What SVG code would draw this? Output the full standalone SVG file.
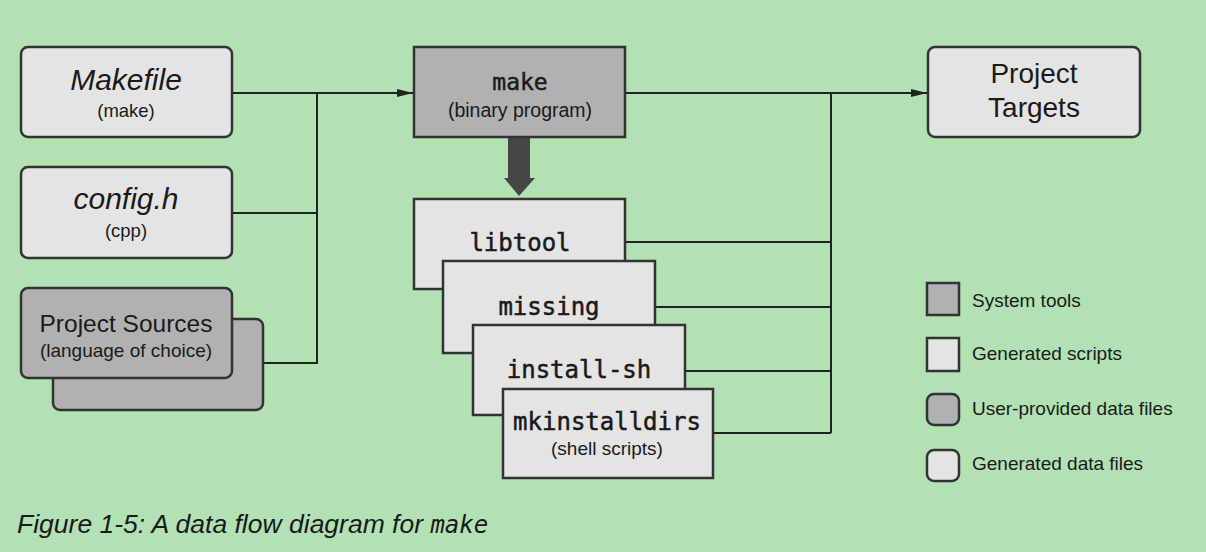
<svg xmlns="http://www.w3.org/2000/svg" width="1206" height="552" viewBox="0 0 1206 552">
<style>
.bg{fill:#b2e1b4}
.lt{fill:#e4e4e4;stroke:#333;stroke-width:2.5}
.dk{fill:#b1b1b1;stroke:#333;stroke-width:2.5}
.ln{fill:none;stroke:#222;stroke-width:2}
.s{font-family:"Liberation Sans",Arial,sans-serif;fill:#1a1a1a;text-anchor:middle}
.it{font-style:italic}
.m{font-family:"DejaVu Sans Mono","Liberation Mono",monospace;fill:#1a1a1a;stroke:#1a1a1a;stroke-width:0.5;text-anchor:middle}
.lg{font-family:"Liberation Sans",Arial,sans-serif;fill:#1a1a1a;font-size:19px}
</style>
<defs>
<marker id="ah" viewBox="0 0 16 10" refX="16" refY="5" markerWidth="16" markerHeight="10" markerUnits="userSpaceOnUse" orient="auto">
<path d="M0,1 L16,5 L0,9 Z" fill="#222"/>
</marker>
</defs>
<rect class="bg" x="0" y="0" width="1206" height="552"/>

<g id="connectors">
<path class="ln" d="M232,93 H317 V363 H263"/>
<path class="ln" d="M232,213 H317"/>
<path class="ln" d="M317,93 H413" marker-end="url(#ah)"/>
<path class="ln" d="M625,93 H927" marker-end="url(#ah)"/>
<path class="ln" d="M831,93 V433"/>
<path class="ln" d="M625,242 H831"/>
<path class="ln" d="M655,307 H831"/>
<path class="ln" d="M685,371 H831"/>
<path class="ln" d="M713,433 H831"/>
<path d="M508,138 H530 V178 H535 L519,196 L504,178 H508 Z" fill="#464646"/>
</g>

<g id="makefile">
<rect class="lt" x="21" y="47" width="211" height="90" rx="7"/>
<text class="s it" x="126" y="90" font-size="30">Makefile</text>
<text class="s" x="126" y="117" font-size="18.5">(make)</text>
</g>

<g id="config">
<rect class="lt" x="21" y="167" width="211" height="91" rx="7"/>
<text class="s it" x="126" y="209" font-size="30">config.h</text>
<text class="s" x="126" y="237" font-size="18.5">(cpp)</text>
</g>

<g id="sources">
<rect class="dk" x="53" y="319" width="210" height="91" rx="7"/>
<rect class="dk" x="21" y="288" width="211" height="90" rx="7"/>
<text class="s" x="126" y="332" font-size="24.5">Project Sources</text>
<text class="s" x="126" y="357" font-size="19">(language of choice)</text>
</g>

<g id="make">
<rect class="dk" x="414" y="47" width="211" height="90"/>
<text class="m" x="520" y="90" font-size="23">make</text>
<text class="s" x="520" y="117" font-size="19.5">(binary program)</text>
</g>

<g id="targets">
<rect class="lt" x="928" y="47" width="212" height="90" rx="7"/>
<text class="s" x="1034" y="83" font-size="28">Project</text>
<text class="s" x="1034" y="117" font-size="28">Targets</text>
</g>

<g id="libtool">
<rect class="lt" x="414" y="199" width="211" height="90"/>
<text class="m" x="520" y="251" font-size="24">libtool</text>
</g>

<g id="missing">
<rect class="lt" x="443" y="261" width="212" height="92"/>
<text class="m" x="549" y="315" font-size="24">missing</text>
</g>

<g id="installsh">
<rect class="lt" x="473" y="325" width="212" height="90"/>
<text class="m" x="579" y="378" font-size="24">install-sh</text>
</g>

<g id="mkinstalldirs">
<rect class="lt" x="503" y="389" width="210" height="89"/>
<text class="m" x="607" y="430" font-size="24">mkinstalldirs</text>
<text class="s" x="607" y="455" font-size="19">(shell scripts)</text>
</g>

<g id="legend">
<rect class="dk" x="927" y="283" width="32" height="32"/>
<text class="lg" x="972" y="307">System tools</text>
<rect class="lt" x="927" y="338" width="32" height="33"/>
<text class="lg" x="972" y="360">Generated scripts</text>
<rect class="dk" x="927" y="394" width="32" height="31" rx="7"/>
<text class="lg" x="972" y="415">User-provided data files</text>
<rect class="lt" x="927" y="450" width="32" height="31" rx="7"/>
<text class="lg" x="972" y="470">Generated data files</text>
</g>

<text id="caption" x="17" y="533" font-family="Liberation Sans, Arial, sans-serif" font-style="italic" font-size="26.5" fill="#1a1a1a">Figure 1-5: A data flow diagram for <tspan font-family="DejaVu Sans Mono, monospace" font-size="24">make</tspan></text>
</svg>
